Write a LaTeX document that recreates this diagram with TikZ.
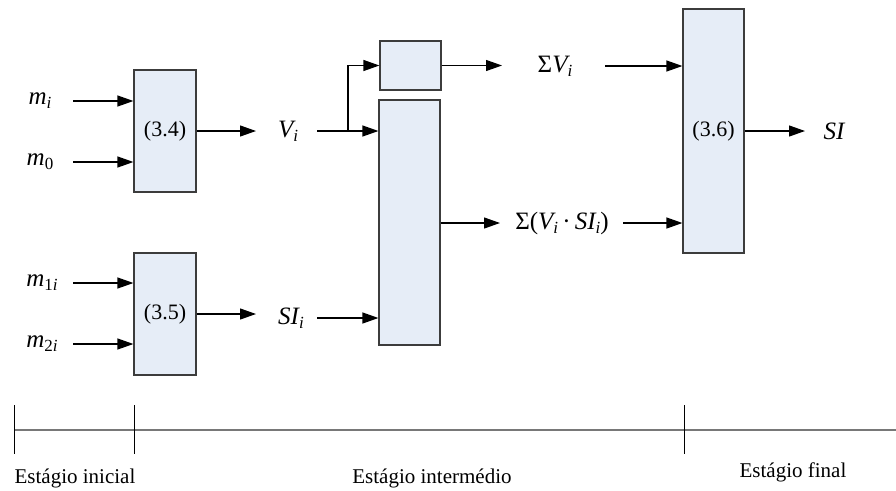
\documentclass[tikz,border=0pt]{standalone}
\usepackage{fontspec}
\setmainfont{Liberation Serif}
\usetikzlibrary{arrows.meta,calc}
\definecolor{boxfill}{RGB}{230,237,247}
\definecolor{boxline}{RGB}{60,60,60}
\definecolor{axisgray}{RGB}{120,120,120}
\newcommand\lsub[1]{\raisebox{-0.35ex}{\fontsize{17}{17}\selectfont #1}}
\begin{document}
\begin{tikzpicture}[x=1pt,y=-1pt,
  blk/.style={draw=boxline,fill=boxfill,line width=1.2pt,inner sep=0pt,font=\fontsize{22}{24}\selectfont},
  lbl/.style={inner sep=0pt,font=\fontsize{25}{27}\selectfont\itshape},
  stage/.style={inner sep=0pt,font=\fontsize{21}{24}\selectfont},
  arr/.style={line width=1.2pt,-{Triangle[length=16pt,width=11pt]}}]
\useasboundingbox (0,0) rectangle (896,490);
% blocks
\node[blk,minimum width=62pt,minimum height=122pt] (b34) at (165,131) {(3.4)};
\node[blk,minimum width=62pt,minimum height=122pt] (b35) at (165,314) {(3.5)};
\node[blk,minimum width=61pt,minimum height=49pt] (bs) at (410.5,65.5) {};
\node[blk,minimum width=61pt,minimum height=245pt] (bt) at (409.5,222.5) {};
\node[blk,minimum width=61pt,minimum height=244pt] (b36) at (713.5,131) {(3.6)};
% labels
\node[lbl] (mi) at (40,101) {m\lsub{i}};
\node[lbl] (m0) at (40,162) {m\lsub{\upshape 0}};
\node[lbl] (m1i) at (42,283) {m\lsub{{\upshape 1}i}};
\node[lbl] (m2i) at (42,344) {m\lsub{{\upshape 2}i}};
\node[lbl] (vi) at (288,131) {V\lsub{i}};
\node[lbl] (sii) at (291,318) {SI\lsub{i}};
\node[lbl] (sv) at (555,66) {{\upshape Σ}V\lsub{i}};
\node[lbl] (svsi) at (562,223) {{\upshape Σ(}V\lsub{i}{\upshape\,·\,}SI\lsub{i}{\upshape)}};
\node[lbl] (si) at (834,131) {SI};
\coordinate (br) at (348,131);
% connectors
\draw[arr] (73,101) -- (mi -| b34.west);
\draw[arr] (73,162) -- (m0 -| b34.west);
\draw[arr] (73,283) -- (m1i -| b35.west);
\draw[arr] (73,344) -- (m2i -| b35.west);
\draw[arr] (b34.east) -- (256,131);
\draw[arr] (b35.east) -- (256,314);
\draw[arr] (317,131) -- (vi -| bt.west);
\draw[arr] (br) |- (bs.west);
\draw[arr] (317,318) -- (sii -| bt.west);
\draw[arr] (bs.east) -- (502,65.5);
\draw[arr] (bt.east |- svsi) -- (500,223);
\draw[arr] (605,66) -- (sv -| b36.west);
\draw[arr] (623,223) -- (svsi -| b36.west);
\draw[arr] (b36.east) -- (805,131);
% stage axis
\coordinate (a0) at (14,430);
\coordinate (a1) at (134,430);
\coordinate (a2) at (684,430);
\coordinate (a3) at (896,430);
\draw[axisgray,line width=1.5pt] (a0) -- (a3);
\foreach \c in {a0,a1,a2} \draw[line width=0.9pt] ($(\c)+(0,-25)$) -- ($(\c)+(0,24)$);
\node[stage] (s1) at (75,478) {Estágio inicial};
\node[stage] (s2) at (432,478) {Estágio intermédio};
\node[stage] (s3) at (793,472) {Estágio final};
\end{tikzpicture}
\end{document}
